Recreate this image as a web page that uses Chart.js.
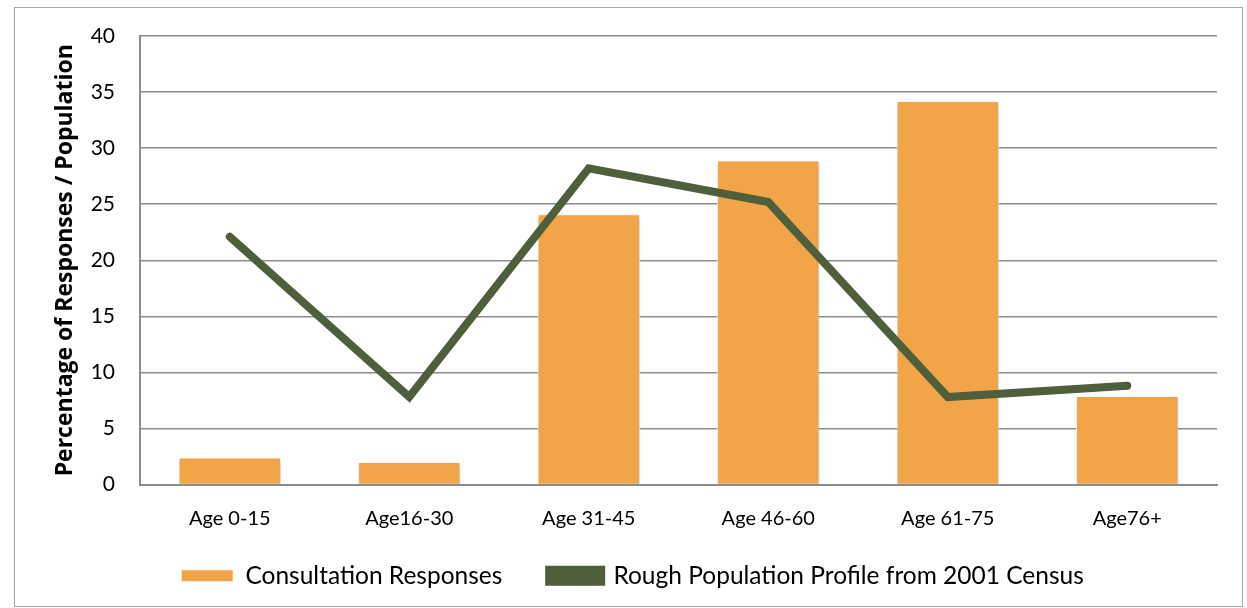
<!DOCTYPE html>
<html>
<head>
<meta charset="utf-8">
<script src="https://cdn.jsdelivr.net/npm/chart.js@4"></script>
<style>
  html, body { margin: 0; padding: 0; background: #fff; }
  #frame {
    position: absolute; left: 14px; top: 7px;
    width: 1229px; height: 600px;
    border: 1px solid #a6a6a6; box-sizing: border-box;
  }
  #wrap { position: absolute; left: 0; top: 0; width: 1227px; height: 598px; }
</style>
</head>
<body>
<div id="frame"><div id="wrap"><canvas id="chart"></canvas></div></div>
<script>
var ageGroups = ['Age 0-15', 'Age16-30', 'Age 31-45', 'Age 46-60', 'Age 61-75', 'Age76+'];
var responses = [2.4, 2.0, 24.1, 28.9, 34.2, 7.9];
var census2001 = [22.1, 7.8, 28.2, 25.2, 7.8, 8.8];

var fontName = 'Lato, "Open Sans", sans-serif';

// soft shadow under the bars, like the original
var barShadow = {
	id: 'barShadow',
	beforeDatasetDraw: function(chart, args) {
		if (args.meta.type !== 'bar') return;
		var c = chart.ctx;
		c.save();
		c.shadowColor = 'rgba(0,0,0,0.25)';
		c.shadowBlur = 4;
		c.shadowOffsetX = 1;
		c.shadowOffsetY = 2;
	},
	afterDatasetDraw: function(chart, args) {
		if (args.meta.type !== 'bar') return;
		chart.ctx.restore();
	}
};

var ctx = document.getElementById('chart').getContext('2d');
new Chart(ctx, {
	type: 'bar',
	data: {
		labels: ageGroups,
		datasets: [
			{
				type: 'line',
				label: 'Rough Population Profile from 2001 Census',
				data: census2001,
				borderColor: '#4f5e3b',
				backgroundColor: '#4f5e3b',
				borderWidth: 8,
				borderCapStyle: 'round',
				borderJoinStyle: 'miter',
				pointRadius: 0,
				tension: 0,
				order: 0
			},
			{
				label: 'Consultation Responses',
				data: responses,
				backgroundColor: '#f2a548',
				borderColor: '#ffffff',
				borderWidth: 1,
				barPercentage: 0.57,
				categoryPercentage: 1,
				order: 1
			}
		]
	},
	plugins: [barShadow],
	options: {
		responsive: true,
		maintainAspectRatio: false,
		animation: false,
		layout: { padding: { left: 33, right: 25, top: 28, bottom: 8 } },
		scales: {
			x: {
				grid: { display: false, drawTicks: false },
				border: { color: '#8c8c8c', width: 2 },
				ticks: { color: '#000', font: { family: fontName, size: 20 }, padding: 22 },
				afterFit: function(scale) { scale.height = 69; }
			},
			y: {
				min: 0, max: 40,
				ticks: { stepSize: 5, color: '#000', font: { family: fontName, size: 21 }, padding: 25 },
				grid: { color: '#8c8c8c', lineWidth: 1.5, drawTicks: false },
				border: { color: '#8c8c8c', width: 2 },
				title: {
					display: true,
					text: 'Percentage of Responses / Population',
					color: '#000',
					font: { family: '"Open Sans", sans-serif', size: 23, weight: 'bold' },
					padding: { top: 4, bottom: 0 }
				},
				afterFit: function(scale) {
					scale.width = 92;
					scale.paddingTop = 0;
					scale.paddingBottom = 0;
				}
			}
		},
		plugins: {
			tooltip: { enabled: false },
			legend: {
				position: 'bottom',
				reverse: true,
				labels: {
					color: '#000',
					font: { family: fontName, size: 24.5 },
					boxWidth: 52,
					boxHeight: 12,
					padding: 10,
					generateLabels: function(chart) {
						var items = Chart.defaults.plugins.legend.labels.generateLabels(chart);
						items.forEach(function(item) {
							if (item.text === 'Consultation Responses') item.text += '\u2003\u2003';
						});
						return items;
					}
				}
			}
		}
	}
});
</script>
</body>
</html>
